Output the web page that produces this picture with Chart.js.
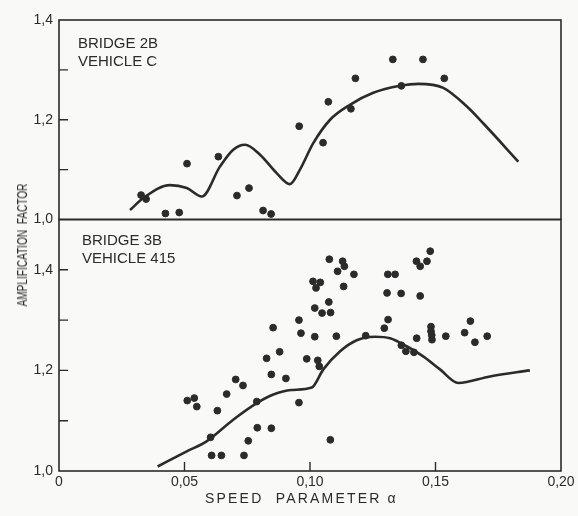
<!DOCTYPE html>
<html>
<head>
<meta charset="utf-8">
<script src="https://cdn.jsdelivr.net/npm/chart.js@4.4.1/dist/chart.umd.min.js"></script>
<style>
  html, body { margin: 0; padding: 0; background: #f9f9f8; }
  #wrap { position: relative; width: 578px; height: 516px; overflow: hidden; font-family: "Liberation Sans", Arial, sans-serif; color: #2b2b2b; }
  canvas { position: absolute; left: 0; }
  #topC { top: 0; }
  #botC { top: 210px; }
  .ylab { position: absolute; left: 22px; top: 245px; transform: translate(-50%, -50%) rotate(-90deg) scaleX(0.72);
          white-space: pre; font-size: 14px; }
  .xlab { position: absolute; left: 205px; top: 490px; white-space: pre; font-size: 14px; letter-spacing: 2.2px; }
</style>
</head>
<body>
<div id="wrap">
  <canvas id="topC" width="578" height="230"></canvas>
  <canvas id="botC" width="578" height="306"></canvas>
  <div class="ylab">AMPLIFICATION  FACTOR</div>
  <div class="xlab">SPEED  PARAMETER α</div>
</div>
<script>
const INK = '#2b2b2b';

// x tick labels (speed parameter alpha)
const xTickVals = [0, 0.05, 0.10, 0.15, 0.20];
const xTickLabels = ['0', '0,05', '0,10', '0,15', '0,20'];
// y tick labels (only every other tick is labelled)
const yTickVals = [1.0, 1.2, 1.4];
const yTickLabels = ['1,0', '1,2', '1,4'];

// Bridge 2B, vehicle C - measured points
const topPtsX = [0.0327, 0.0347, 0.0424, 0.0479, 0.0510, 0.0635, 0.0709, 0.0757, 0.0813, 0.0845,
                 0.0957, 0.1052, 0.1073, 0.1163, 0.1181, 0.1330, 0.1364, 0.1450, 0.1535];
const topPtsY = [1.049, 1.041, 1.012, 1.014, 1.112, 1.126, 1.048, 1.063, 1.018, 1.011,
                 1.187, 1.154, 1.236, 1.222, 1.283, 1.321, 1.268, 1.321, 1.283];
// Bridge 2B - theoretical curve
const topCurveX = [0.0283, 0.0336, 0.0442, 0.0509, 0.0569, 0.0641, 0.0694, 0.0741, 0.0801, 0.0867,
                   0.0920, 0.0960, 0.1013, 0.1080, 0.1159, 0.1252, 0.1359, 0.1431, 0.1531, 0.1624,
                   0.1690, 0.1830];
const topCurveY = [1.019, 1.043, 1.069, 1.063, 1.046, 1.106, 1.140, 1.150, 1.130, 1.093,
                   1.071, 1.100, 1.153, 1.200, 1.230, 1.254, 1.268, 1.272, 1.264, 1.227,
                   1.193, 1.116];

// Bridge 3B, vehicle 415 - measured points
const botPtsX = [0.0511, 0.0539, 0.0549, 0.0631, 0.0604, 0.0608, 0.0647, 0.0668, 0.0704, 0.0733,
                 0.0737, 0.0754, 0.0788, 0.0790, 0.0827, 0.0846, 0.0846, 0.0853, 0.0879, 0.0904,
                 0.0956, 0.0964, 0.0987, 0.0956, 0.1012, 0.1024, 0.1041, 0.1019, 0.1019, 0.1031,
                 0.1037, 0.1048, 0.1075, 0.1082, 0.1077, 0.1081, 0.1105, 0.1110, 0.1130, 0.1137,
                 0.1134, 0.1175, 0.1222, 0.1296, 0.1311, 0.1310, 0.1339, 0.1307, 0.1363, 0.1364,
                 0.1382, 0.1414, 0.1425, 0.1424, 0.1439, 0.1466, 0.1479, 0.1439, 0.1482, 0.1482,
                 0.1485, 0.1486, 0.1541, 0.1616, 0.1639, 0.1657, 0.1706];
const botPtsY = [1.140, 1.145, 1.128, 1.120, 1.067, 1.031, 1.031, 1.153, 1.182, 1.170,
                 1.031, 1.060, 1.138, 1.086, 1.224, 1.192, 1.085, 1.285, 1.237, 1.184,
                 1.300, 1.274, 1.223, 1.136, 1.377, 1.364, 1.375, 1.324, 1.267, 1.220,
                 1.208, 1.314, 1.336, 1.315, 1.421, 1.062, 1.268, 1.397, 1.417, 1.407,
                 1.367, 1.391, 1.269, 1.284, 1.301, 1.391, 1.391, 1.354, 1.353, 1.250,
                 1.238, 1.236, 1.264, 1.417, 1.407, 1.417, 1.437, 1.348, 1.287, 1.278,
                 1.270, 1.261, 1.268, 1.275, 1.298, 1.256, 1.268];
// Bridge 3B - theoretical curve
const botCurveX = [0.0393, 0.0509, 0.0588, 0.0694, 0.0788, 0.0854, 0.0925, 0.1007, 0.1053, 0.1120,
                   0.1186, 0.1259, 0.1319, 0.1385, 0.1451, 0.1518, 0.1591, 0.1717, 0.1876];
const botCurveY = [1.009, 1.039, 1.059, 1.102, 1.135, 1.152, 1.161, 1.166, 1.202, 1.238,
                   1.260, 1.267, 1.264, 1.248, 1.228, 1.202, 1.175, 1.188, 1.200];

function pts(xs, ys) { return xs.map((x, i) => ({ x: x, y: ys[i] })); }

function yLabel(v) {
  const i = yTickVals.findIndex(t => Math.abs(t - v) < 1e-6);
  return i < 0 ? '' : yTickLabels[i];
}
function xLabel(v) {
  const i = xTickVals.findIndex(t => Math.abs(t - v) < 1e-6);
  return i < 0 ? '' : xTickLabels[i];
}

// frame, inward ticks and panel caption
const framePlugin = {
  id: 'frame',
  afterDraw(chart, args, opts) {
    const { ctx, chartArea: a, scales } = chart;
    ctx.save();
    ctx.strokeStyle = INK;
    ctx.lineWidth = 1.6;
    ctx.strokeRect(a.left, a.top, a.right - a.left, a.bottom - a.top);
    ctx.lineWidth = 1.4;
    ctx.beginPath();
    scales.y.ticks.forEach(t => {
      const py = scales.y.getPixelForValue(t.value);
      if (py > a.top + 2 && py < a.bottom - 2) { ctx.moveTo(a.left, py); ctx.lineTo(a.left + 9, py); }
    });
    if (opts.xTicks) {
      scales.x.ticks.forEach(t => {
        const px = scales.x.getPixelForValue(t.value);
        if (px > a.left + 2 && px < a.right - 2) { ctx.moveTo(px, a.bottom); ctx.lineTo(px, a.bottom - 9); }
      });
    }
    ctx.stroke();
    ctx.fillStyle = INK;
    ctx.font = '15px "Liberation Sans", Arial, sans-serif';
    ctx.textBaseline = 'alphabetic';
    opts.caption.forEach((line, i) => ctx.fillText(line, a.left + opts.capX, a.top + opts.capY + i * 18.4));
    ctx.restore();
  }
};

function makeChart(id, curve, points, yMax, showX, padTop, padBottom, caption, capX, capY) {
  return new Chart(document.getElementById(id), {
    type: 'scatter',
    data: {
      datasets: [
        { data: curve, showLine: true, borderColor: INK, borderWidth: 2.6, pointRadius: 0,
          cubicInterpolationMode: 'monotone' },
        { data: points, backgroundColor: INK, borderColor: INK, pointRadius: 3.4, showLine: false }
      ]
    },
    options: {
      responsive: false,
      animation: false,
      layout: { padding: { top: padTop, right: 17, bottom: padBottom, left: 0 } },
      plugins: {
        legend: { display: false },
        tooltip: { enabled: false },
        frame: { caption: caption, capX: capX, capY: capY, xTicks: showX }
      },
      scales: {
        x: {
          type: 'linear', min: 0, max: 0.2, display: showX,
          grid: { display: false },
          border: { display: false },
          ticks: { stepSize: 0.05, autoSkip: false, maxRotation: 0, padding: -5, color: INK,
                   font: { family: '"Liberation Sans", Arial, sans-serif', size: 14 },
                   callback: v => xLabel(v) },
          afterFit: s => { if (showX) s.height = 45; }
        },
        y: {
          min: 1.0, max: yMax,
          grid: { display: false },
          border: { display: false },
          ticks: { stepSize: 0.1, autoSkip: false, padding: -2, color: INK,
                   font: { family: '"Liberation Sans", Arial, sans-serif', size: 14 },
                   callback: v => yLabel(v) },
          afterFit: s => { s.width = 59; }
        }
      }
    },
    plugins: [framePlugin]
  });
}

makeChart('topC', pts(topCurveX, topCurveY), pts(topPtsX, topPtsY), 1.4, false, 20, 10.5,
          ['BRIDGE 2B', 'VEHICLE C'], 19, 28);
makeChart('botC', pts(botCurveX, botCurveY), pts(botPtsX, botPtsY), 1.5, true, 9.5, 0,
          ['BRIDGE 3B', 'VEHICLE 415'], 23, 25);
</script>
</body>
</html>
